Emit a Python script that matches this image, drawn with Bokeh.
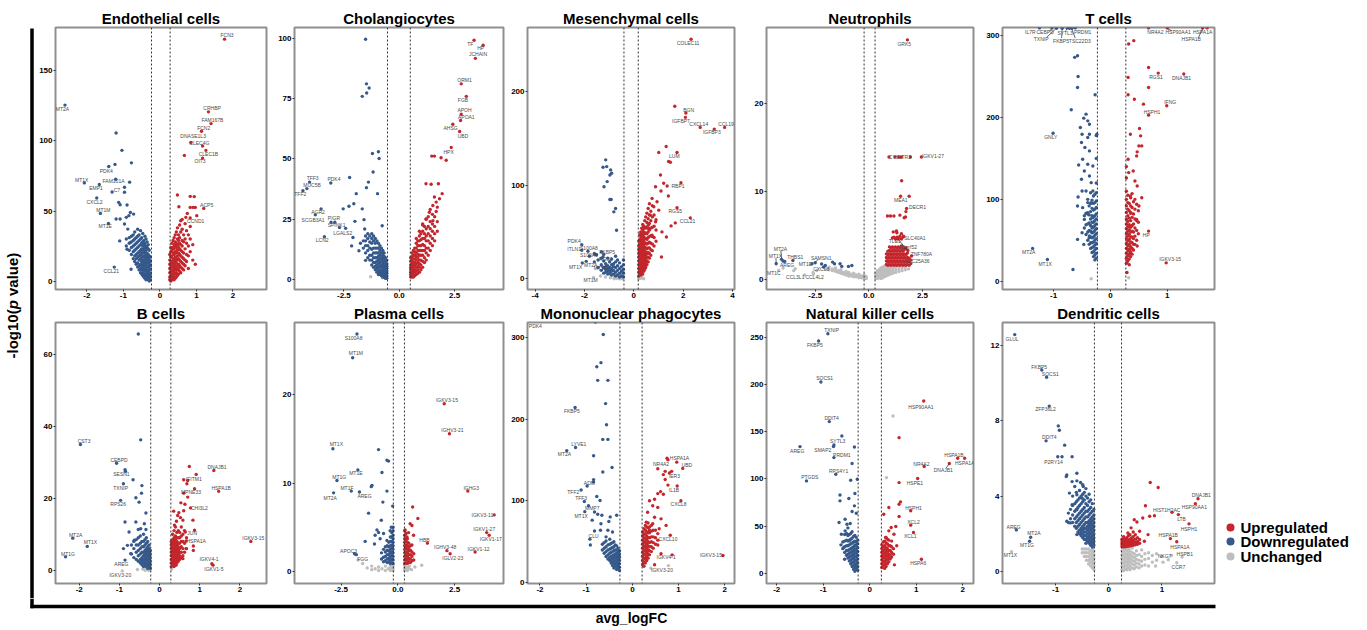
import math
from bokeh.plotting import figure
from bokeh.layouts import row, column
from bokeh.models import Range1d, FixedTicker, Span
from bokeh.core.properties import value
from bokeh.embed import file_html
from bokeh.resources import INLINE

FONT = "Liberation Sans"
RED = "#C3262C"
BLUE = "#35598B"
GRAY = "#BEBEBE"
LABEL_COLOR = "#4a4a4a"

# ======================= Endothelial cells =======================
ENDO_XR = (-2.86, 2.92); ENDO_YR = (-6, 181)
ENDO_XT = [-2, -1, 0, 1, 2]; ENDO_XTL = ["-2", "-1", "0", "1", "2"]
ENDO_YT = [0, 50, 100, 150]
ENDO_THR = (-0.23, 0.28)
ENDO_UP_DENSE = {
    0.27: [1, 3, 6, 9, 12, 15, 19], 0.30: [0, 2, 4, 7, 10, 13, 17, 21, 24],
    0.33: [1, 3, 5, 8, 11, 14, 18, 22, 27], 0.36: [2, 4, 7, 10, 13, 16, 20, 24, 29],
    0.39: [1, 3, 6, 9, 12, 15, 19, 23, 26, 31], 0.42: [2, 5, 8, 11, 14, 17, 21, 25, 28, 33],
    0.45: [3, 6, 9, 13, 16, 20, 24, 27, 35], 0.48: [4, 8, 11, 15, 18, 22, 26, 30, 38],
    0.51: [5, 9, 12, 16, 20, 24, 29, 33], 0.54: [7, 11, 15, 19, 23, 27, 31, 40],
    0.57: [6, 10, 14, 18, 22, 26, 35], 0.61: [9, 13, 17, 21, 25, 29, 37, 44],
    0.65: [8, 12, 16, 20, 28, 33], 0.69: [11, 15, 23, 30, 41], 0.73: [14, 19, 27, 36],
    0.78: [9, 18, 25, 33], 0.83: [21, 30, 39], 0.90: [15, 26], 0.97: [12],
}
ENDO_UP = [(0.48, 61.5), (0.83, 60.5), (0.94, 60.3), (0.52, 53.1), (0.83, 52.6), (0.91, 52.6),
           (0.97, 52.6), (0.75, 48.3), (0.71, 45.5), (0.57, 43.1), (0.67, 89.7), (1.01, 46.7)]
ENDO_DOWN_DENSE = {
    -0.26: [1, 3, 5, 8, 11, 14, 17], -0.29: [0, 2, 4, 6, 9, 12, 15, 18, 22],
    -0.32: [1, 3, 5, 7, 10, 13, 16, 19, 23, 26], -0.35: [2, 4, 6, 8, 11, 14, 17, 20, 24, 28],
    -0.38: [1, 3, 5, 8, 10, 13, 16, 19, 22, 25, 30], -0.41: [2, 4, 7, 9, 12, 15, 18, 21, 24, 27, 32],
    -0.44: [3, 5, 8, 11, 14, 17, 20, 23, 26, 29], -0.47: [4, 6, 9, 12, 15, 18, 22, 25, 28, 34],
    -0.50: [5, 8, 11, 14, 17, 20, 23, 27, 31], -0.53: [6, 9, 12, 16, 19, 22, 26, 30, 36],
    -0.57: [8, 11, 15, 18, 21, 25, 29, 33], -0.61: [10, 13, 17, 20, 24, 28, 32, 37],
    -0.65: [12, 16, 19, 23, 27, 31], -0.69: [14, 18, 22, 26, 30, 35], -0.73: [16, 21, 25, 29, 33],
    -0.78: [19, 24, 28, 32], -0.84: [22, 27, 31], -0.92: [25, 30],
}
ENDO_DOWN = [(-1.20, 105.7), (-1.04, 93.3), (-0.78, 84.4), (-1.23, 83.3), (-0.83, 70.6), (-0.97, 67.0),
             (-0.97, 63.4), (-1.13, 56.2), (-1.09, 54.5), (-0.90, 54.3), (-0.81, 49.0), (-0.85, 46.7),
             (-0.72, 47.8), (-0.92, 45.5), (-1.20, 44.3), (-1.09, 44.3), (-0.97, 40.7), (-0.88, 37.1),
             (-1.10, 28.7), (-0.81, 27.5), (-0.90, 22.7), (-0.79, 8.4), (-0.53, 8.4)]
ENDO_NC_DENSE = {}
ENDO_NC = []
ENDO_LABELS = [
    ("FCN3", "up", 1.77, 172.7, 1.84, 175.6), ("MT2A", "down", -2.60, 125.6, -2.67, 123.0),
    ("CRHBP", "up", 1.33, 120.8, 1.43, 123.4), ("FAM167B", "up", 1.40, 112.4, 1.44, 115.0),
    ("FCN2", "up", 1.14, 106.9, 1.20, 109.1), ("DNASE1L3", "up", 1.17, 96.4, 0.91, 103.6),
    ("CLEC4G", "up", 0.85, 99.0, 1.08, 98.8), ("CLEC1B", "up", 1.26, 93.3, 1.33, 90.7),
    ("OIT3", "up", 1.17, 87.8, 1.10, 85.6), ("ACP5", "up", 1.20, 51.9, 1.28, 54.3),
    ("CCND1", "up", 0.83, 45.0, 0.98, 43.1), ("PDK4", "down", -1.40, 81.8, -1.47, 78.9),
    ("MT1X", "down", -2.07, 70.1, -2.14, 72.5), ("FAM101A", "down", -1.21, 72.7, -1.27, 71.1),
    ("EMP1", "down", -1.66, 68.9, -1.75, 66.3), ("C7", "down", -1.31, 63.6, -1.18, 65.1),
    ("CXCL2", "down", -1.73, 59.3, -1.79, 56.7), ("MT1M", "down", -1.63, 48.3, -1.55, 51.0),
    ("MT1E", "down", -1.41, 41.1, -1.50, 39.0), ("CCL21", "down", -1.25, 10.0, -1.33, 7.2),
]
ENDO_SEGS = []

# ======================= Cholangiocytes =======================
CHOL_XR = (-4.73, 4.71); CHOL_YR = (-4.2, 104.6)
CHOL_XT = [-2.5, 0, 2.5]; CHOL_XTL = ["-2.5", "0.0", "2.5"]
CHOL_YT = [0, 25, 50, 75, 100]
CHOL_THR = (-0.53, 0.5)
CHOL_UP_DENSE = {
    0.52: [1, 2, 3, 4, 5, 6, 7.5, 9], 0.58: [1, 2, 3, 4, 5, 6.5, 8, 9.5, 11],
    0.64: [1, 2, 3.5, 4.5, 6, 7, 8.5, 10, 12], 0.70: [1.5, 3, 4, 5.5, 7, 8.5, 10, 11.5, 13],
    0.77: [2, 3.5, 5, 6.5, 8, 9.5, 11, 13, 15, 17], 0.84: [2.5, 4, 5.5, 7, 9, 10.5, 12, 14, 16],
    0.91: [3, 5, 6.5, 8, 10, 12, 14, 16, 18, 20], 0.98: [4, 6, 8, 10, 12, 14, 16.5, 19],
    1.06: [5, 7.5, 10, 12, 14.5, 17, 20, 23], 1.14: [7, 9, 12, 14, 17, 19, 22],
    1.22: [8, 11, 13, 16, 18, 21, 25], 1.31: [10, 13, 16, 19, 22, 26],
    1.40: [12, 15, 18, 21, 24, 29], 1.50: [14, 17, 20, 23, 27], 1.60: [16, 19, 22, 26],
    1.72: [20, 24, 30],
}
CHOL_UP = [(1.47, 51.2), (1.59, 51.2), (1.89, 50.5), (2.12, 49.5), (1.21, 39.7), (1.44, 39.5),
           (1.77, 39.7), (1.59, 34.2), (1.94, 35.6), (1.67, 32.1), (1.82, 33.5), (1.52, 30.7),
           (1.36, 27.9), (1.67, 28.2), (1.21, 25.1), (1.52, 24.4), (1.06, 22.6)]
CHOL_DOWN_DENSE = {
    -0.56: [0.5, 1.5, 2.5, 3.5, 4.5, 5.5, 6.5, 8], -0.62: [0.5, 1.5, 2.5, 3.5, 5, 6, 7.5, 9],
    -0.68: [1, 2, 3, 4, 5, 6.5, 8, 9.5, 11], -0.74: [1, 2, 3, 4.5, 5.5, 7, 8.5, 10, 12],
    -0.80: [1.5, 2.5, 3.5, 5, 6, 7.5, 9, 11, 13], -0.87: [2, 3, 4, 5.5, 7, 8.5, 10, 12, 14],
    -0.94: [2, 3.5, 5, 6.5, 8, 9.5, 11, 13, 15], -1.01: [3, 4.5, 6, 7.5, 9, 11, 13, 16],
    -1.08: [4, 5.5, 7, 9, 11, 13, 15, 17], -1.16: [5, 7, 9, 11, 13, 16, 18],
    -1.24: [6, 8, 10, 12.5, 15, 17, 19], -1.33: [8, 10, 13, 15.5, 18], -1.42: [9, 12, 14, 17, 19],
    -1.52: [11, 14, 16, 18], -1.62: [13, 16], -1.75: [15],
}
CHOL_DOWN = [(-1.52, 99.7), (-1.48, 81.2), (-1.36, 79.5), (-1.47, 77.4), (-1.67, 76.0), (-0.94, 53.0),
             (-1.21, 52.3), (-0.91, 50.2), (-1.18, 44.6), (-2.24, 42.3), (-1.39, 40.4), (-1.48, 38.1),
             (-0.98, 35.6), (-1.94, 35.6), (-2.05, 31.4), (-2.27, 30.4), (-2.53, 29.3), (-1.67, 29.3),
             (-1.59, 24.8), (-2.00, 24.1), (-0.77, 22.3), (-1.56, 20.9), (-2.09, 17.4), (-2.15, 13.9),
             (-1.82, 11.9), (-1.52, 7.9), (-2.91, 23.7)]
CHOL_NC_DENSE = {}
CHOL_NC = [(-1.29, 1.1), (-0.76, 0.7), (-0.62, 0.4)]
CHOL_LABELS = [
    ("TF", "up", 3.38, 99.3, 3.21, 97.9), ("HP", "up", 3.79, 97.2, 3.68, 96.0),
    ("JCHAIN", "up", 3.44, 91.8, 3.56, 93.4), ("ORM1", "up", 2.80, 81.2, 2.95, 82.6),
    ("FGB", "up", 3.03, 76.0, 2.88, 74.6), ("APOH", "up", 2.80, 68.6, 2.95, 70.2),
    ("APOA1", "up", 2.77, 66.0, 3.03, 67.4), ("AHSG", "up", 2.42, 64.4, 2.32, 63.0),
    ("UBD", "up", 2.73, 61.4, 2.88, 59.7), ("HPX", "up", 2.35, 54.8, 2.23, 53.0),
    ("TFF3", "down", -4.05, 40.4, -3.91, 42.1), ("MUC5B", "down", -4.17, 37.7, -3.94, 39.1),
    ("TFF2", "down", -4.35, 36.8, -4.47, 35.3), ("PDK4", "down", -3.09, 40.0, -2.95, 41.6),
    ("AGR2", "down", -3.53, 29.3, -3.67, 27.9), ("SCGB3A1", "down", -3.79, 26.8, -3.89, 24.8),
    ("PIGR", "down", -3.08, 23.7, -2.95, 25.4), ("SPINK1", "down", -2.70, 21.5, -2.83, 22.7),
    ("LGALS2", "down", -2.42, 21.2, -2.55, 19.4), ("LCN2", "down", -3.38, 17.7, -3.48, 16.5),
]
CHOL_SEGS = []

# ======================= Mesenchymal cells =======================
MES_XR = (-4.31, 4.08); MES_YR = (-11.4, 267.9)
MES_XT = [-4, -2, 0, 2, 4]; MES_XTL = ["-4", "-2", "0", "2", "4"]
MES_YT = [0, 100, 200]
MES_THR = (-0.40, 0.18)
MES_UP_DENSE = {
    0.20: [3, 7, 11, 15, 19, 23, 27, 31, 35, 40], 0.24: [5, 9, 13, 17, 21, 25, 29, 33, 37, 42, 47],
    0.28: [4, 8, 12, 16, 20, 24, 28, 32, 36, 40, 45, 50],
    0.32: [6, 10, 14, 18, 22, 26, 30, 34, 38, 43, 48, 54],
    0.36: [5, 9, 13, 17, 21, 25, 29, 33, 37, 41, 46, 52, 58],
    0.40: [8, 12, 16, 20, 24, 28, 32, 36, 40, 45, 50, 56],
    0.44: [10, 14, 18, 22, 26, 30, 34, 38, 43, 48, 54, 62],
    0.48: [12, 16, 20, 24, 28, 33, 38, 43, 49, 55, 66],
    0.53: [15, 19, 23, 27, 32, 37, 42, 48, 54, 60, 70],
    0.58: [18, 23, 28, 33, 38, 44, 50, 57, 64, 75], 0.63: [22, 27, 33, 39, 45, 52, 59, 68, 80],
    0.69: [25, 31, 38, 46, 54, 62, 72], 0.75: [30, 37, 45, 55, 66, 78], 0.82: [35, 44, 56, 68],
    0.90: [40, 52, 63],
}
MES_UP = [(1.31, 141.1), (1.66, 183.9), (1.01, 134.6), (1.41, 125.0), (1.48, 124.3), (1.08, 110.7),
          (1.21, 101.8), (1.35, 98.9), (0.88, 98.2), (1.10, 93.6), (1.40, 88.2), (0.74, 85.7),
          (1.32, 44.6), (1.12, 23.2), (1.51, 56.4), (1.68, 59.6), (0.94, 82.1), (0.81, 76.8),
          (1.01, 73.2), (0.67, 67.9), (0.88, 60.7), (0.61, 53.6), (1.14, 50.0), (0.74, 46.4)]
MES_DOWN_DENSE = {
    -0.42: [2, 6, 10, 15, 20], -0.50: [3, 8, 13], -0.58: [2, 6, 11, 17], -0.66: [4, 9, 14, 20],
    -0.74: [3, 7, 12, 18, 24], -0.82: [5, 9, 13, 16], -0.90: [4, 8, 11, 15, 21], -0.98: [6, 9, 12, 18],
    -1.06: [5, 8, 11, 14, 22], -1.14: [7, 10, 13, 16], -1.22: [6, 12, 19, 26], -1.32: [9, 15, 22],
    -1.45: [12, 20], -1.60: [18, 27], -1.80: [24],
}
MES_DOWN = [(-1.14, 126.8), (-1.25, 118.9), (-1.10, 119.6), (-0.94, 116.1), (-0.90, 112.5),
            (-0.97, 110.7), (-1.08, 103.6), (-1.21, 98.2), (-0.97, 84.6), (-0.92, 84.6), (-0.74, 75.0),
            (-0.81, 71.4), (-0.70, 51.8)]
MES_NC_DENSE = {
    -0.45: [0, 2, 4, 7, 10], -0.52: [0, 1.5, 4, 6], -0.60: [0, 2, 5], -0.70: [0.5, 3], -0.80: [0, 2],
    -0.95: [1, 4], -1.15: [2], -1.35: [3], 0.20: [0, 1.5], 0.26: [0.5, 2.5], 0.32: [1, 3], 0.40: [0],
}
MES_NC = []
MES_LABELS = [
    ("COLEC11", "up", 2.32, 255.4, 2.20, 251.8), ("BGN", "up", 2.11, 176.8, 2.22, 180.4),
    ("IGFBP7", "up", 2.09, 172.1, 1.91, 168.6), ("CXCL14", "up", 2.69, 161.4, 2.63, 165.0),
    ("CCL19", "up", 3.68, 161.4, 3.74, 165.0), ("IGFBP3", "up", 3.26, 159.6, 3.16, 156.1),
    ("LUM", "up", 1.75, 134.6, 1.64, 130.4), ("RBP1", "up", 1.91, 102.5, 1.79, 98.9),
    ("RGS5", "up", 1.75, 75.7, 1.68, 72.1), ("CCL21", "up", 2.29, 65.0, 2.18, 61.4),
    ("PDK4", "down", -2.11, 36.4, -2.42, 40.7), ("ITLN1", "down", -2.11, 30.4, -2.42, 31.4),
    ("S100A8", "down", -1.86, 29.3, -1.82, 33.2), ("S100A9", "down", -1.51, 25.7, -1.82, 25.0),
    ("FKBP5", "down", -1.31, 28.6, -1.08, 28.6), ("RGS2", "down", -1.25, 23.2, -1.14, 21.4),
    ("MT1X", "down", -2.09, 16.8, -2.36, 12.5), ("MT2A", "down", -1.93, 18.6, -1.75, 14.3),
    ("MT1E", "down", -1.25, 12.5, -1.35, 11.4), ("MT1M", "nc", -1.63, 1.4, -1.75, -1.8),
]
MES_SEGS = [(-1.62, 25.0, -1.52, 25.6)]

# ======================= Neutrophils =======================
NEU_XR = (-4.77, 4.88); NEU_YR = (-1.14, 28.6)
NEU_XT = [-2.5, 0, 2.5]; NEU_XTL = ["-2.5", "0.0", "2.5"]
NEU_YT = [0, 10, 20]
NEU_THR = (-0.22, 0.29)
NEU_UP_DENSE = {
    0.82: [1.7, 2.1, 2.5, 2.9], 0.89: [1.6, 2.0, 2.4, 2.8, 3.2], 0.96: [1.7, 2.1, 2.5, 2.9, 3.3, 3.7],
    1.03: [1.6, 2.0, 2.4, 2.8, 3.2, 3.6], 1.10: [1.7, 2.1, 2.5, 2.9, 3.3, 3.7, 4.7],
    1.17: [1.6, 2.0, 2.4, 2.8, 3.2, 3.6, 4.8], 1.24: [1.7, 2.1, 2.5, 2.9, 3.3, 3.7, 4.6],
    1.31: [1.6, 2.0, 2.4, 2.8, 3.2, 3.6, 4.8, 5.3], 1.38: [1.7, 2.1, 2.5, 2.9, 3.3, 3.7, 4.7],
    1.45: [1.6, 2.0, 2.4, 2.8, 3.2, 3.6, 4.9], 1.52: [1.7, 2.1, 2.5, 2.9, 3.3, 3.8, 4.6],
    1.59: [1.6, 2.0, 2.4, 2.8, 3.2, 3.6, 4.8], 1.66: [1.7, 2.1, 2.5, 2.9, 3.4],
    1.73: [1.6, 2.0, 2.4, 2.8, 3.6], 1.80: [1.7, 2.1, 2.5, 3.0], 1.88: [1.6, 2.0, 2.4], 1.96: [1.8, 2.2],
}
NEU_UP = [(0.94, 13.9), (1.22, 13.9), (1.40, 13.9), (1.94, 13.9), (1.53, 11.2), (1.88, 9.45),
          (1.73, 7.7), (0.87, 7.2), (1.01, 7.2), (1.17, 7.2), (1.45, 7.3), (1.65, 7.0), (1.71, 7.1),
          (1.29, 5.5), (1.14, 5.4), (1.52, 5.2)]
NEU_DOWN_DENSE = {}
NEU_DOWN = [(-1.69, 1.97), (-1.60, 1.78), (-1.34, 1.78), (-1.26, 1.48), (-0.95, 1.48), (-2.03, 1.59),
            (-2.11, 1.40), (-4.0, 2.09), (-0.79, 1.59), (-2.20, 1.75)]
NEU_NC_DENSE = {
    0.32: [0.1, 0.4, 0.7], 0.40: [0.1, 0.4, 0.7, 1.0], 0.48: [0.2, 0.5, 0.8, 1.1],
    0.56: [0.1, 0.4, 0.7, 1.0, 1.3], 0.64: [0.2, 0.5, 0.8, 1.1, 1.4], 0.72: [0.3, 0.6, 0.9, 1.2, 1.5],
    0.80: [0.4, 0.7, 1.0, 1.3], 0.90: [0.5, 0.8, 1.1, 1.4], 1.00: [0.6, 0.9, 1.2, 1.5],
    1.12: [0.7, 1.0, 1.3], 1.25: [0.8, 1.1, 1.4], 1.40: [0.9, 1.2, 1.5], 1.55: [1.0, 1.3],
    1.70: [1.1, 1.4], 1.85: [1.2],
    -0.12: [0.1, 0.3], -0.22: [0.1, 0.3, 0.5], -0.34: [0.2, 0.4], -0.46: [0.2, 0.4, 0.6],
    -0.58: [0.3, 0.5], -0.70: [0.3, 0.5, 0.7], -0.82: [0.4, 0.6], -0.94: [0.4, 0.6, 0.8],
    -1.06: [0.5, 0.7, 0.9], -1.18: [0.6, 0.8], -1.30: [0.7, 0.9, 1.1], -1.42: [0.8, 1.0],
    -1.55: [0.9, 1.1, 1.3], -1.70: [1.0, 1.2], -1.85: [1.1, 1.4], -2.0: [1.2], -2.6: [0.8],
    -3.0: [0.5], -3.5: [1.0], -4.0: [1.3],
}
NEU_NC = []
NEU_LABELS = [
    ("GRK5", "up", 1.80, 27.2, 1.65, 26.7), ("CYSLTR2", "up", 1.52, 13.9, 1.45, 13.9),
    ("IGKV1-27", "up", 2.45, 13.9, 2.99, 14.0), ("MEA1", "up", 1.48, 9.45, 1.49, 9.0),
    ("DECR1", "up", 1.76, 8.05, 2.27, 8.24), ("SLC40A1", "up", 1.62, 4.9, 2.15, 4.74),
    ("TLE1", "up", 1.35, 4.6, 1.21, 4.40), ("C1orf52", "up", 1.82, 3.3, 1.83, 3.68),
    ("ZNF780A", "up", 1.99, 2.66, 2.45, 2.85), ("SLC25A36", "up", 1.71, 2.05, 2.27, 2.05),
    ("MT2A", "down", -4.07, 2.28, -4.12, 3.49), ("MT1X", "down", -4.32, 1.78, -4.35, 2.66),
    ("AREG", "down", -3.92, 2.05, -3.81, 1.59), ("MT1C", "nc", -4.20, 1.02, -4.43, 0.76),
    ("THBS1", "down", -3.54, 2.16, -3.43, 2.54), ("MT1E", "down", -2.65, 1.78, -2.96, 1.71),
    ("SAMSN1", "down", -2.50, 1.90, -2.22, 2.47), ("CXCL8", "nc", -2.42, 1.02, -2.22, 1.21),
    ("CCL3L1", "nc", -3.43, 1.21, -3.43, 0.27), ("CCL4L2", "nc", -2.58, 0.65, -2.53, 0.27),
]
NEU_SEGS = [(-4.33, 2.45, -4.32, 1.85), (-4.10, 3.30, -4.07, 2.40), (-2.35, 2.30, -2.50, 1.95),
            (1.37, 4.55, 1.80, 3.30)]

# ======================= T cells =======================
T_XR = (-1.90, 1.83); T_YR = (-10.2, 310)
T_XT = [-1, 0, 1]; T_XTL = ["-1", "0", "1"]
T_YT = [0, 100, 200, 300]
T_THR = (-0.23, 0.27)
T_UP_DENSE = {
    0.28: [22, 28, 34, 40, 46, 52, 58, 64, 70, 76, 84, 92, 100, 110, 126, 140],
    0.305: [25, 31, 37, 43, 49, 55, 61, 67, 73, 80, 88, 96, 105],
    0.33: [20, 27, 33, 39, 45, 51, 57, 63, 69, 77, 86, 95],
    0.355: [30, 36, 42, 48, 54, 60, 66, 74, 83, 92, 102], 0.38: [33, 40, 47, 54, 61, 68, 78, 90, 107],
    0.405: [38, 45, 52, 60, 70, 82, 97], 0.43: [45, 55, 65, 76, 88], 0.46: [50, 62, 74, 94],
    0.49: [58, 72, 86],
}
T_UP = [(0.67, 261.2), (0.41, 293.9), (0.32, 289.8), (0.31, 227.8), (0.31, 249.0), (0.67, 236.7),
        (0.42, 222.4), (0.58, 216.3), (0.35, 179.6), (0.51, 186.5), (0.53, 177.6), (0.50, 165.3),
        (0.55, 165.3), (0.47, 158.0), (0.46, 153.1), (0.31, 149.0), (0.40, 134.7), (0.32, 132.7),
        (0.55, 102.0), (0.43, 122.4), (0.47, 116.3), (0.35, 104.1), (0.43, 100.0), (0.50, 91.8),
        (0.36, 83.7), (0.46, 75.5), (0.32, 67.3), (0.47, 42.9), (0.35, 34.7), (0.29, 22.4), (0.29, 10.5)]
T_DOWN_DENSE = {
    -0.25: [28, 34, 40, 46, 52, 58, 64, 70, 76, 82, 90, 98, 108, 120, 150, 178],
    -0.275: [26, 32, 38, 44, 50, 56, 62, 68, 74, 80, 88, 96, 106],
    -0.30: [30, 36, 42, 48, 54, 60, 66, 72, 79, 87, 95, 104],
    -0.325: [35, 41, 47, 53, 59, 65, 72, 80, 89, 99], -0.35: [40, 47, 54, 61, 68, 76, 85, 95, 108],
    -0.375: [45, 53, 62, 71, 81, 92], -0.40: [50, 60, 70, 82, 96], -0.43: [57, 69, 83], -0.46: [65, 80],
}
T_DOWN = [(-0.58, 275.5), (-0.63, 273.5), (-0.57, 250.2), (-0.58, 236.7), (-0.27, 227.8), (-0.69, 209.4),
          (-0.43, 204.1), (-0.47, 199.2), (-0.40, 195.9), (-0.53, 187.8), (-0.37, 191.8), (-0.50, 179.6),
          (-0.37, 179.6), (-0.40, 175.5), (-0.24, 179.6), (-0.51, 169.4), (-0.45, 163.3), (-0.37, 159.2),
          (-0.49, 149.0), (-0.56, 142.0), (-0.40, 142.9), (-0.31, 140.8), (-0.46, 134.7), (-0.37, 128.6),
          (-0.51, 124.5), (-0.34, 120.4), (-0.43, 110.2), (-0.31, 110.2), (-0.50, 110.2), (-0.57, 102.9),
          (-0.40, 100.0), (-0.34, 95.9), (-0.58, 91.8), (-0.49, 89.8), (-0.40, 83.7), (-0.31, 77.6),
          (-0.46, 75.5), (-0.34, 67.3), (-0.50, 59.2), (-0.58, 51.0), (-0.47, 44.9), (-0.37, 55.1),
          (-0.66, 14.3), (-0.72, 309.0)]
T_NC_DENSE = {}
T_NC = [(-0.34, 2.9), (0.32, 4.1)]
T_LABELS = [
    ("IL7R", "down", -1.25, 309.5, -1.41, 304.9), ("CEBPD", "down", -1.03, 309.5, -1.15, 304.9),
    ("TXNIP", "down", -0.95, 309.0, -1.22, 295.9), ("FKBP5", "down", -0.85, 309.0, -0.87, 293.5),
    ("SYTL3", "down", -0.76, 309.5, -0.80, 303.3), ("PRDM1", "down", -0.62, 309.5, -0.49, 304.9),
    ("TSC22D3", "down", -0.68, 309.0, -0.54, 293.5), ("NR4A2", "up", 0.67, 309.5, 0.79, 304.1),
    ("HSP90AA1", "up", 1.00, 309.5, 1.19, 304.1), ("HSPA1A", "up", 1.70, 309.5, 1.62, 304.1),
    ("HSPA1B", "up", 1.62, 309.5, 1.42, 295.9), ("RGS1", "up", 0.84, 254.3, 0.80, 249.0),
    ("DNAJB1", "up", 1.29, 253.1, 1.25, 247.8), ("IFNG", "up", 0.99, 214.3, 1.05, 219.2),
    ("HSPH1", "up", 0.67, 202.9, 0.73, 207.3), ("GNLY", "down", -1.01, 180.8, -1.05, 176.7),
    ("MT2A", "down", -1.37, 40.0, -1.44, 35.9), ("MT1X", "down", -1.11, 26.5, -1.15, 21.2),
    ("IGKV3-15", "up", 0.98, 22.4, 1.05, 27.3), ("HP", "up", 0.67, 61.2, 0.63, 56.7),
]
T_SEGS = [(-1.12, 298, -0.97, 308), (-0.86, 297, -0.85, 308), (-0.62, 297, -0.68, 308),
          (-1.08, 305, -1.03, 308.5), (-0.79, 306, -0.76, 308.5), (1.08, 306, 1.00, 308.5),
          (1.55, 298, 1.62, 308.5)]

# ======================= B cells =======================
B_XR = (-2.59, 2.66); B_YR = (-3.7, 68.8)
B_XT = [-2, -1, 0, 1, 2]; B_XTL = ["-2", "-1", "0", "1", "2"]
B_YT = [0, 20, 40, 60]
B_THR = (-0.22, 0.28)
B_UP_DENSE = {
    0.29: [1, 2, 3, 4, 5, 6, 7, 8], 0.325: [1.5, 2.5, 3.5, 4.5, 5.5, 6.5, 7.5, 8.5, 10],
    0.36: [1, 2, 3, 4, 5, 6, 7, 8, 9, 11], 0.395: [1.5, 2.5, 3.5, 4.5, 5.5, 6.5, 7.5, 8.5, 9.5, 12],
    0.43: [2, 3, 4, 5, 6, 7, 8, 9, 10.5], 0.465: [2.5, 3.5, 4.5, 5.5, 6.5, 7.5, 9, 11],
    0.50: [3, 4, 5, 6, 7.5, 9, 10.5], 0.54: [3.5, 5, 6.5, 8, 9.5, 12], 0.58: [4, 6, 8, 10],
    0.62: [5, 7.5, 11], 0.67: [6, 9],
}
B_UP = [(0.74, 28.8), (0.91, 26.6), (0.70, 24.9), (0.68, 24.0), (0.87, 22.6), (0.70, 20.3), (0.53, 18.7),
        (0.48, 16.0), (0.35, 16.4), (0.63, 18.3), (0.83, 13.9), (0.87, 11.1), (0.84, 6.7), (0.84, 5.5),
        (0.45, 15.2), (0.58, 13.9), (0.37, 12.5), (0.66, 6.0), (0.58, 3.2), (0.41, 1.4), (0.60, 16.5),
        (0.52, 14.6), (0.42, 13.6)]
B_DOWN_DENSE = {
    -0.23: [0.5, 1.5, 2.5, 3.5, 4.5, 5.5], -0.26: [1, 2, 3, 4, 5, 6, 7],
    -0.295: [0.5, 1.5, 2.5, 3.5, 4.5, 5.5, 6.5, 8], -0.33: [1, 2, 3, 4, 5, 6, 7.5, 9],
    -0.365: [1.5, 2.5, 3.5, 4.5, 5.5, 7, 8.5], -0.40: [1, 2, 3, 4, 5, 6.5, 8, 10],
    -0.44: [1.5, 2.5, 3.5, 5, 6.5, 8], -0.48: [2, 3, 4.5, 6, 7.5, 9.5], -0.53: [2.5, 4, 5.5, 7, 9],
    -0.58: [3, 5, 7, 8.5], -0.64: [3.5, 6, 8], -0.70: [4.5, 7],
}
B_DOWN = [(-0.53, 65.6), (-0.47, 36.2), (-0.66, 25.1), (-0.44, 23.5), (-0.45, 21.4), (-0.59, 20.1),
          (-0.51, 18.9), (-0.34, 15.9), (-0.86, 13.4), (-0.59, 13.4), (-0.38, 12.9), (-0.76, 10.6),
          (-0.53, 11.3), (-0.47, 11.5), (-0.34, 11.3), (-0.63, 8.3), (-0.80, 6.9), (-0.90, 6.0),
          (-0.72, 4.6), (-0.85, 27.5)]
B_NC_DENSE = {-0.24: [0, 0.4, 0.8], -0.28: [0, 0.5], -0.32: [0.2, 0.7], -0.36: [0, 0.5],
              -0.42: [0.3], -0.55: [0.2], 0.30: [0.3]}
B_NC = []
B_LABELS = [
    ("CST3", "down", -1.97, 34.9, -1.88, 35.9), ("CEBPD", "down", -1.07, 29.7, -1.01, 30.6),
    ("SESN1", "down", -0.86, 27.9, -0.95, 26.6), ("TXNIP", "down", -0.90, 24.0, -0.97, 22.9),
    ("RPS26", "down", -0.97, 19.4, -1.03, 18.5), ("MT2A", "down", -2.16, 8.9, -2.09, 9.7),
    ("MT1X", "down", -1.80, 6.6, -1.72, 7.7), ("MT1G", "down", -2.34, 3.7, -2.28, 4.6),
    ("AREG", "down", -0.86, 2.8, -0.95, 1.6), ("IGKV3-20", "nc", -0.93, -0.2, -0.98, -1.4),
    ("DNAJB1", "up", 1.35, 27.7, 1.43, 28.6), ("IFITM1", "up", 0.60, 25.1, 0.85, 25.4),
    ("HSPA1B", "up", 1.47, 21.9, 1.53, 22.8), ("MPNE33", "up", 0.60, 21.4, 0.78, 21.7),
    ("CHI3L2", "up", 0.77, 17.3, 0.99, 17.3), ("JUN", "up", 0.64, 10.6, 0.81, 10.2),
    ("HSPA1A", "up", 0.66, 8.1, 0.91, 8.1), ("IGKV3-15", "up", 2.27, 8.0, 2.33, 8.9),
    ("IGKV4-1", "up", 1.30, 1.8, 1.23, 3.0), ("IGKV1-5", "up", 1.33, 1.4, 1.35, 0.2),
]
B_SEGS = []

# ======================= Plasma cells =======================
PL_XR = (-4.55, 4.65); PL_YR = (-1.37, 28.2)
PL_XT = [-2.5, 0, 2.5]; PL_XTL = ["-2.5", "0.0", "2.5"]
PL_YT = [0, 10, 20]
PL_THR = (-0.20, 0.29)
PL_UP_DENSE = {
    0.30: [0.9, 1.3, 1.7, 2.1, 2.5, 2.9, 3.3, 3.7, 4.1, 4.6], 0.36: [1.0, 1.4, 1.8, 2.2, 2.6, 3.0, 3.4, 3.8, 4.3],
    0.42: [0.9, 1.3, 1.7, 2.1, 2.5, 2.9, 3.3, 3.7], 0.48: [1.1, 1.5, 1.9, 2.3, 2.7, 3.2],
    0.55: [1.0, 1.4, 1.9, 2.4, 2.9], 0.62: [1.2, 1.7, 2.2, 3.0], 0.70: [1.3, 2.0],
}
PL_UP = [(0.65, 7.3), (0.88, 6.0), (0.54, 5.4), (0.62, 5.2), (0.32, 4.7), (0.47, 4.4), (0.69, 4.1), (0.40, 3.9)]
PL_DOWN_DENSE = {
    -0.21: [0.9, 1.3, 1.7, 2.1, 2.5, 2.9, 3.3, 3.7, 4.1, 4.6, 5.0],
    -0.27: [1.0, 1.4, 1.8, 2.2, 2.6, 3.0, 3.4, 3.9, 4.4], -0.33: [0.9, 1.3, 1.7, 2.1, 2.5, 2.9, 3.4, 3.9],
    -0.40: [1.1, 1.5, 1.9, 2.3, 2.8, 3.3], -0.47: [1.0, 1.4, 1.9, 2.4, 2.9], -0.55: [1.2, 1.7, 2.2, 2.8],
    -0.63: [1.1, 1.6, 2.5], -0.72: [1.4, 2.1],
}
PL_DOWN = [(-0.85, 13.8), (-0.41, 12.5), (-0.48, 12.6), (-0.70, 11.2), (-1.14, 9.75), (-1.17, 9.6),
           (-0.48, 9.1), (-0.66, 7.85), (-0.23, 7.4), (-1.29, 6.6), (-0.73, 5.8), (-1.44, 3.4),
           (-1.00, 4.1), (-1.03, 3.1), (-0.78, 3.7), (-0.92, 4.7), (-0.85, 4.4), (-0.63, 4.3),
           (-0.48, 3.5), (-0.34, 4.6), (-0.29, 5.0), (-1.83, 1.9)]
PL_NC_DENSE = {
    -0.21: [0.1, 0.4, 0.7], -0.27: [0.2, 0.5], -0.33: [0.1, 0.4, 0.7], -0.42: [0.3], -0.55: [0.1, 0.6],
    -0.70: [0.3], -0.85: [0.1, 0.5], -1.00: [0.3], -1.15: [0.2, 0.6], -1.35: [0.4], -1.55: [0.9],
    0.30: [0.1, 0.4, 0.7], 0.36: [0.2, 0.5], 0.42: [0.1, 0.4], 0.50: [0.3, 0.6], 0.60: [0.2],
    0.75: [0.5], 1.05: [0.7],
}
PL_NC = []
PL_LABELS = [
    ("S100A8", "down", -1.80, 26.9, -1.95, 26.4), ("MT1M", "down", -1.99, 24.2, -1.85, 24.7),
    ("MT1X", "down", -2.86, 13.9, -2.71, 14.4), ("MT1E", "down", -1.76, 11.5, -1.85, 11.1),
    ("MT1G", "down", -2.68, 10.3, -2.58, 10.7), ("MT1F", "down", -2.05, 9.1, -2.24, 9.4),
    ("MT2A", "down", -2.83, 8.9, -2.98, 8.3), ("AREG", "down", -1.69, 9.0, -1.47, 8.5),
    ("APOC3", "down", -1.91, 2.0, -2.17, 2.35), ("FGG", "nc", -1.75, 1.3, -1.55, 1.45),
    ("IGKV3-15", "up", 2.04, 19.0, 2.16, 19.4), ("IGHV3-21", "up", 2.27, 15.6, 2.40, 16.0),
    ("IGHG3", "up", 3.08, 9.1, 3.23, 9.4), ("IGKV3-11", "up", 4.24, 6.4, 3.72, 6.4),
    ("IGKV1-27", "up", 3.91, 4.4, 3.80, 4.8), ("IGKV1-17", "up", 4.02, 4.1, 4.09, 3.7),
    ("IGKV1-12", "up", 3.40, 2.2, 3.55, 2.5), ("IGHV3-48", "up", 2.16, 2.35, 2.08, 2.75),
    ("IGLV2-23", "up", 2.30, 2.0, 2.42, 1.5), ("HBB", "up", 1.30, 3.2, 1.17, 3.6),
]
PL_SEGS = []

# ======================= Mononuclear phagocytes =======================
MO_XR = (-2.27, 2.21); MO_YR = (-1, 318)
MO_XT = [-2, -1, 0, 1, 2]; MO_XTL = ["-2", "-1", "0", "1", "2"]
MO_YT = [0, 100, 200, 300]
MO_THR = (-0.27, 0.21)
MO_UP_DENSE = {
    0.22: [22, 27, 32, 37, 42, 47, 52, 57, 62], 0.25: [20, 25, 30, 35, 40, 45, 50, 55, 60, 66],
    0.28: [24, 29, 34, 39, 44, 49, 54, 59, 64, 70], 0.31: [27, 32, 37, 42, 47, 52, 57, 62, 68],
    0.34: [30, 35, 40, 45, 50, 55, 61, 67, 73], 0.37: [34, 39, 44, 49, 55, 61, 68],
    0.41: [38, 44, 50, 56, 63, 70], 0.45: [42, 49, 56, 64], 0.50: [47, 55, 64], 0.55: [52, 60],
}
MO_UP = [(0.77, 150.1), (0.96, 147.3), (0.71, 136.1), (0.80, 134.1), (0.67, 132.1), (0.71, 126.1),
         (0.77, 119.3), (0.61, 111.3), (0.55, 108.9), (0.67, 108.1), (0.48, 102.0), (0.37, 100.1),
         (0.44, 94.0), (0.55, 92.0), (0.33, 86.0), (0.48, 80.0), (0.62, 78.0), (0.30, 74.0),
         (0.44, 72.0), (0.58, 66.0), (0.37, 64.0), (0.73, 70.0), (0.55, 46.0), (0.86, 34.0),
         (0.30, 30.0), (0.48, 22.0)]
MO_DOWN_DENSE = {
    -0.28: [15, 19, 23, 27, 31, 35, 39], -0.31: [17, 21, 25, 29, 33, 37, 42],
    -0.34: [16, 20, 24, 28, 32, 36, 40, 45], -0.37: [19, 23, 27, 31, 35, 40, 46],
    -0.40: [18, 22, 26, 30, 34, 39, 44, 50], -0.43: [21, 25, 29, 33, 38, 43, 49],
    -0.46: [24, 28, 32, 37, 42, 48], -0.49: [27, 31, 36, 41, 47, 53], -0.53: [29, 34, 40, 46],
    -0.57: [32, 38, 44, 51], -0.61: [36, 42, 49], -0.65: [40, 47],
}
MO_DOWN = [(-0.63, 303.3), (-0.77, 263.9), (-0.68, 268.9), (-0.75, 247.3), (-0.53, 247.3), (-0.58, 218.9),
           (-0.56, 193.1), (-0.64, 175.1), (-0.53, 175.1), (-0.84, 155.1), (-0.44, 140.8), (-0.64, 135.3),
           (-0.84, 126.0), (-0.84, 123.2), (-0.77, 105.3), (-0.70, 100.4), (-0.82, 86.4), (-0.87, 76.4),
           (-0.75, 83.6), (-0.66, 82.4), (-0.68, 72.0), (-0.48, 80.4), (-0.34, 82.4), (-0.82, 63.2),
           (-0.69, 64.0), (-0.53, 64.0), (-0.57, 56.0), (-0.91, 46.0), (-0.51, 74.8), (-0.43, 62.0)]
MO_NC_DENSE = {}
MO_NC = [(0.78, 20.9)]
MO_LABELS = [
    ("PDK4", "down", -0.80, 318.5, -2.10, 313.3), ("FKBP5", "down", -1.24, 214.1, -1.31, 209.3),
    ("LYVE1", "down", -1.23, 165.3, -1.16, 169.4), ("MT2A", "down", -1.42, 161.3, -1.47, 157.1),
    ("ADM", "down", -0.98, 118.1, -0.93, 122.0), ("TFF2", "down", -1.11, 113.3, -1.28, 111.3),
    ("TFF3", "down", -1.04, 99.2, -1.11, 103.2), ("MMP7", "down", -0.95, 94.0, -0.87, 90.8),
    ("MT1X", "down", -1.03, 86.8, -1.11, 81.2), ("CLU", "down", -0.92, 53.2, -0.84, 56.8),
    ("HSPA1A", "up", 0.75, 152.1, 1.02, 152.9), ("NR4A2", "up", 0.55, 139.3, 0.62, 144.5),
    ("UBD", "up", 1.09, 139.7, 1.18, 143.7), ("IER3", "up", 0.85, 136.1, 0.91, 130.9),
    ("IL1B", "up", 0.97, 118.1, 0.90, 113.0), ("CXCL8", "up", 1.05, 100.1, 1.00, 96.1),
    ("CXCL10", "up", 0.82, 58.0, 0.77, 53.2), ("IGKV4-1", "up", 0.62, 35.3, 0.73, 31.8),
    ("IGKV3-15", "up", 1.96, 33.3, 1.70, 33.3), ("IGKV3-20", "nc", 0.40, 17.8, 0.64, 15.8),
]
MO_SEGS = []

# ======================= Natural killer cells =======================
NK_XR = (-2.22, 2.23); NK_YR = (-11, 266)
NK_XT = [-2, -1, 0, 1, 2]; NK_XTL = ["-2", "-1", "0", "1", "2"]
NK_YT = [0, 50, 100, 150, 200, 250]
NK_THR = (-0.25, 0.25)
NK_UP_DENSE = {
    0.26: [6, 10, 14, 18, 22, 26, 30], 0.29: [8, 12, 16, 20, 24, 28, 33],
    0.32: [5, 9, 13, 17, 21, 25, 29, 34], 0.35: [7, 11, 15, 19, 23, 27, 32, 38],
    0.38: [10, 14, 18, 22, 26, 31, 36], 0.41: [12, 16, 20, 24, 29, 35], 0.44: [15, 19, 24, 29],
    0.47: [17, 22, 28, 34], 0.51: [20, 26],
}
NK_UP = [(0.63, 73.1), (0.66, 75.6), (0.41, 69.6), (0.63, 60.1), (0.56, 49.5), (0.46, 48.4), (0.52, 41.3),
         (0.58, 29.0), (0.53, 8.8), (0.30, 62.5), (0.63, 96.1), (0.63, 143.8), (0.41, 44.9), (0.34, 37.8)]
NK_DOWN_DENSE = {
    -0.26: [3, 7, 11, 15, 19, 23, 27, 31, 35], -0.29: [5, 9, 13, 17, 21, 25, 29, 33, 38],
    -0.32: [2, 6, 10, 14, 18, 22, 26, 30, 34, 40], -0.35: [4, 8, 12, 16, 20, 24, 28, 33, 39],
    -0.38: [7, 11, 15, 19, 23, 27, 32, 37, 44], -0.41: [10, 14, 18, 22, 26, 31, 36, 42],
    -0.44: [13, 17, 21, 25, 30, 35, 41], -0.47: [16, 20, 24, 29, 34, 40, 48], -0.50: [19, 24, 29, 35, 42],
    -0.54: [22, 28, 34, 41], -0.58: [26, 33], -0.62: [30],
}
NK_DOWN = [(-0.60, 145.6), (-0.33, 133.9), (-0.38, 116.3), (-0.41, 98.6), (-0.27, 99.6), (-0.64, 83.0),
           (-0.64, 76.7), (-0.45, 79.2), (-0.32, 84.5), (-0.33, 71.4), (-0.38, 65.4), (-0.29, 63.6),
           (-0.66, 53.7), (-0.53, 57.2), (-0.49, 51.9), (-0.42, 52.7), (-0.61, 41.3), (-0.53, 44.9),
           (-0.56, 27.2), (-0.54, 14.8), (-0.44, 34.3)]
NK_NC_DENSE = {}
NK_NC = [(0.50, 166.8), (0.36, 101.4)]
NK_LABELS = [
    ("TXNIP", "down", -0.90, 254.1, -0.82, 257.6), ("FKBP5", "down", -1.10, 246.3, -1.18, 242.0),
    ("SOCS1", "down", -1.05, 202.8, -0.97, 206.7), ("DDIT4", "down", -0.87, 160.8, -0.82, 164.3),
    ("SYTL3", "down", -0.77, 136.0, -0.69, 140.3), ("SMAP2", "down", -0.78, 134.3, -1.01, 130.7),
    ("AREG", "down", -1.50, 134.3, -1.56, 129.3), ("PRDM1", "down", -0.77, 122.6, -0.60, 125.4),
    ("RPS4Y1", "down", -0.73, 104.9, -0.67, 108.5), ("PTGDS", "down", -1.36, 97.9, -1.29, 102.1),
    ("HSP90AA1", "up", 1.16, 182.7, 1.10, 176.7), ("HSPA1B", "up", 1.89, 121.9, 1.81, 125.1),
    ("HSPA1A", "up", 2.04, 121.9, 2.04, 116.6), ("NR4A2", "up", 1.17, 113.1, 1.11, 116.3),
    ("DNAJB1", "up", 1.71, 116.3, 1.58, 109.2), ("HSPE1", "up", 1.03, 100.4, 0.97, 96.1),
    ("HSPH1", "up", 0.88, 66.1, 0.94, 69.6), ("XCL2", "up", 0.88, 50.9, 0.94, 54.4),
    ("XCL1", "up", 0.94, 43.1, 0.87, 38.9), ("HSPA6", "up", 1.11, 14.8, 1.04, 10.6),
]
NK_SEGS = [(1.64, 111.5, 1.70, 115.5)]

# ======================= Dendritic cells =======================
DC_XR = (-2.0, 1.99); DC_YR = (-0.63, 13.2)
DC_XT = [-1, 0, 1]; DC_XTL = ["-1", "0", "1"]
DC_YT = [0, 4, 8, 12]
DC_THR = (-0.27, 0.24)
DC_UP_DENSE = {
    0.25: [1.32, 1.42, 1.52, 1.62, 1.72], 0.28: [1.32, 1.42, 1.52, 1.62, 1.72, 1.85],
    0.31: [1.32, 1.42, 1.52, 1.62, 1.75], 0.34: [1.34, 1.44, 1.54, 1.64, 1.8],
    0.37: [1.35, 1.45, 1.55, 1.68, 1.9], 0.40: [1.36, 1.46, 1.58, 1.72, 1.95],
    0.43: [1.38, 1.5, 1.62, 1.78], 0.46: [1.4, 1.52, 1.66, 1.85, 2.1], 0.50: [1.42, 1.56, 1.72, 1.95],
    0.54: [1.45, 1.6, 1.8], 0.58: [1.5, 1.7],
}
DC_UP = [(0.78, 4.72), (0.93, 4.46), (0.69, 3.49), (0.77, 2.93), (0.86, 2.96), (0.64, 2.84), (0.48, 2.75),
         (0.53, 2.63), (0.42, 2.32), (0.58, 2.14), (0.74, 1.96), (0.67, 1.61), (0.36, 2.05)]
DC_DOWN_DENSE = {
    -0.28: [1.4, 1.6, 1.8, 2.0, 2.2, 2.4, 2.6, 2.8, 3.0, 3.3],
    -0.31: [1.3, 1.5, 1.7, 1.9, 2.1, 2.3, 2.5, 2.7, 2.9, 3.2, 3.6],
    -0.34: [1.4, 1.6, 1.8, 2.0, 2.2, 2.4, 2.6, 2.8, 3.1, 3.4, 3.8],
    -0.37: [1.5, 1.7, 1.9, 2.1, 2.3, 2.5, 2.7, 3.0, 3.3, 3.7, 4.1],
    -0.40: [1.6, 1.8, 2.0, 2.2, 2.4, 2.6, 2.9, 3.2, 3.5, 3.9],
    -0.43: [1.5, 1.7, 1.9, 2.1, 2.3, 2.6, 2.9, 3.2, 3.6, 4.0, 4.4],
    -0.46: [1.7, 1.9, 2.1, 2.3, 2.5, 2.8, 3.1, 3.4, 3.8, 4.2],
    -0.49: [1.8, 2.0, 2.2, 2.4, 2.7, 3.0, 3.3, 3.7, 4.1, 4.6],
    -0.52: [1.9, 2.1, 2.3, 2.6, 2.9, 3.2, 3.6, 4.0], -0.55: [2.0, 2.2, 2.5, 2.8, 3.1, 3.5, 3.9, 4.3],
    -0.58: [2.1, 2.4, 2.7, 3.0, 3.4, 3.8], -0.61: [2.3, 2.6, 2.9, 3.3, 3.7, 4.2],
    -0.64: [2.4, 2.8, 3.2, 3.6], -0.68: [2.6, 3.0, 3.5, 4.0], -0.72: [2.8, 3.3], -0.76: [2.6, 3.1],
}
DC_DOWN = [(-0.95, 7.72), (-0.93, 7.49), (-0.83, 6.70), (-0.88, 6.09), (-0.69, 6.09), (-0.79, 5.12),
           (-0.60, 5.21), (-0.80, 5.04), (-0.69, 4.77), (-0.60, 4.81), (-0.53, 4.72), (-0.64, 4.51),
           (-0.48, 4.51), (-0.74, 4.16), (-0.60, 4.07), (-0.50, 3.89), (-0.69, 3.54), (-0.60, 3.28),
           (-0.79, 2.67), (-0.72, 2.58), (-0.60, 1.96)]
DC_NC_DENSE = {
    0.25: [0.1, 0.3, 0.5, 0.7, 0.9, 1.1], 0.28: [0.05, 0.25, 0.45, 0.65, 0.85, 1.05, 1.25],
    0.31: [0.15, 0.35, 0.55, 0.75, 0.95, 1.15], 0.34: [0.1, 0.3, 0.5, 0.7, 0.9, 1.1, 1.28],
    0.37: [0.2, 0.4, 0.6, 0.8, 1.0, 1.2], 0.40: [0.1, 0.3, 0.5, 0.7, 0.9, 1.1],
    0.44: [0.2, 0.4, 0.6, 0.8, 1.0, 1.25], 0.48: [0.15, 0.35, 0.55, 0.75, 0.95],
    0.52: [0.25, 0.45, 0.65, 0.85, 1.1], 0.57: [0.2, 0.4, 0.6, 0.9], 0.62: [0.3, 0.55, 0.8, 1.15],
    0.68: [0.35, 0.65, 0.95], 0.75: [0.3, 0.7, 1.0], 0.82: [0.5, 0.85], 0.90: [0.6, 0.95], 1.00: [0.8],
    -0.28: [0.1, 0.3, 0.5, 0.7, 0.9, 1.1], -0.31: [0.2, 0.4, 0.6, 0.8, 1.0, 1.2],
    -0.34: [0.3, 0.5, 0.7, 0.9, 1.1], -0.38: [0.4, 0.6, 0.8, 1.0, 1.2], -0.42: [0.6, 0.8, 1.0, 1.2],
    -0.46: [0.8, 1.0, 1.2], -0.50: [1.0, 1.2],
}
DC_NC = [(1.18, 0.85), (1.02, 0.5), (0.88, 0.3)]
DC_LABELS = [
    ("GLUL", "down", -1.77, 12.56, -1.82, 12.35), ("FKBP5", "down", -1.26, 10.68, -1.31, 10.86),
    ("SOCS1", "down", -1.17, 10.30, -1.10, 10.47), ("ZFP36L2", "down", -1.12, 8.77, -1.19, 8.60),
    ("DDIT4", "down", -1.18, 6.93, -1.12, 7.14), ("P2RY14", "down", -0.96, 6.09, -1.04, 5.82),
    ("AREG", "down", -1.74, 2.21, -1.79, 2.39), ("MT2A", "down", -1.47, 1.82, -1.41, 2.02),
    ("MT1G", "down", -1.49, 1.61, -1.54, 1.40), ("MT1X", "nc", -1.83, 1.05, -1.85, 0.88),
    ("DNAJB1", "up", 1.68, 3.86, 1.74, 4.07), ("HSP90AA1", "up", 1.63, 3.60, 1.61, 3.42),
    ("HIST1H2AC", "up", 1.19, 3.14, 1.09, 3.28), ("LTB", "up", 1.31, 3.02, 1.37, 2.77),
    ("HSPH1", "up", 1.51, 2.53, 1.51, 2.28), ("HSPA1B", "up", 1.16, 1.75, 1.12, 1.96),
    ("HSPA1A", "up", 1.28, 1.58, 1.34, 1.33), ("HSPB1", "nc", 1.38, 0.77, 1.43, 0.91),
    ("NKG7", "nc", 1.12, 0.63, 1.05, 0.81), ("CCR7", "nc", 1.28, 0.47, 1.31, 0.26),
]
DC_SEGS = []

# ======================= layout geometry =======================
LEFT_W = 34
COL_W = [238, 234, 236, 237, 241]
COL_BL = [21, 22, 21, 24, 23]
COL_BR = [6, 3, 8, 6, 6]
ROW_H = [302, 296]
ROW_BT = [27, 19]
ROW_BB = [13, 15]
LEG_W = 139
BOTTOM_H = 30

PANELS = [
    ["Endothelial cells", ENDO_XR, ENDO_YR, ENDO_XT, ENDO_XTL, ENDO_YT, ENDO_THR, ENDO_UP_DENSE, ENDO_UP,
     ENDO_DOWN_DENSE, ENDO_DOWN, ENDO_NC_DENSE, ENDO_NC, ENDO_LABELS, ENDO_SEGS],
    ["Cholangiocytes", CHOL_XR, CHOL_YR, CHOL_XT, CHOL_XTL, CHOL_YT, CHOL_THR, CHOL_UP_DENSE, CHOL_UP,
     CHOL_DOWN_DENSE, CHOL_DOWN, CHOL_NC_DENSE, CHOL_NC, CHOL_LABELS, CHOL_SEGS],
    ["Mesenchymal cells", MES_XR, MES_YR, MES_XT, MES_XTL, MES_YT, MES_THR, MES_UP_DENSE, MES_UP,
     MES_DOWN_DENSE, MES_DOWN, MES_NC_DENSE, MES_NC, MES_LABELS, MES_SEGS],
    ["Neutrophils", NEU_XR, NEU_YR, NEU_XT, NEU_XTL, NEU_YT, NEU_THR, NEU_UP_DENSE, NEU_UP,
     NEU_DOWN_DENSE, NEU_DOWN, NEU_NC_DENSE, NEU_NC, NEU_LABELS, NEU_SEGS],
    ["T cells", T_XR, T_YR, T_XT, T_XTL, T_YT, T_THR, T_UP_DENSE, T_UP,
     T_DOWN_DENSE, T_DOWN, T_NC_DENSE, T_NC, T_LABELS, T_SEGS],
    ["B cells", B_XR, B_YR, B_XT, B_XTL, B_YT, B_THR, B_UP_DENSE, B_UP,
     B_DOWN_DENSE, B_DOWN, B_NC_DENSE, B_NC, B_LABELS, B_SEGS],
    ["Plasma cells", PL_XR, PL_YR, PL_XT, PL_XTL, PL_YT, PL_THR, PL_UP_DENSE, PL_UP,
     PL_DOWN_DENSE, PL_DOWN, PL_NC_DENSE, PL_NC, PL_LABELS, PL_SEGS],
    ["Mononuclear phagocytes", MO_XR, MO_YR, MO_XT, MO_XTL, MO_YT, MO_THR, MO_UP_DENSE, MO_UP,
     MO_DOWN_DENSE, MO_DOWN, MO_NC_DENSE, MO_NC, MO_LABELS, MO_SEGS],
    ["Natural killer cells", NK_XR, NK_YR, NK_XT, NK_XTL, NK_YT, NK_THR, NK_UP_DENSE, NK_UP,
     NK_DOWN_DENSE, NK_DOWN, NK_NC_DENSE, NK_NC, NK_LABELS, NK_SEGS],
    ["Dendritic cells", DC_XR, DC_YR, DC_XT, DC_XTL, DC_YT, DC_THR, DC_UP_DENSE, DC_UP,
     DC_DOWN_DENSE, DC_DOWN, DC_NC_DENSE, DC_NC, DC_LABELS, DC_SEGS],
]


def collect(dense, extra, labels, cls):
    xs, ys = [], []
    for x, yl in dense.items():
        for y in yl:
            xs.append(x)
            ys.append(y)
    for x, y in extra:
        xs.append(x)
        ys.append(y)
    for lab in labels:
        if lab[1] == cls:
            xs.append(lab[2])
            ys.append(lab[3])
    return xs, ys


def make_panel(spec, ci, ri):
    (title, xr, yr, xt, xtl, yt, thr, upd, up, dnd, dn, ncd, nc, labels, segs) = spec
    p = figure(width=COL_W[ci], height=ROW_H[ri], x_range=Range1d(*xr), y_range=Range1d(*yr),
               output_backend="svg", toolbar_location=None,
               min_border_left=COL_BL[ci], min_border_right=COL_BR[ci],
               min_border_top=ROW_BT[ri], min_border_bottom=ROW_BB[ri])
    p.title.text = title
    p.title.text_font = FONT
    p.title.text_font_size = "15px"
    p.title.text_font_style = "bold"
    p.title.text_color = "black"
    p.title.align = "center"
    p.title.standoff = 1
    p.xgrid.visible = False
    p.ygrid.visible = False
    p.outline_line_color = "#8f8f8f"
    p.outline_line_width = 2
    p.background_fill_color = "white"
    p.border_fill_color = "white"
    p.xaxis.ticker = FixedTicker(ticks=xt)
    p.xaxis.major_label_overrides = {t: s for t, s in zip(xt, xtl)}
    p.yaxis.ticker = FixedTicker(ticks=yt)
    for ax in (p.xaxis, p.yaxis):
        ax.axis_line_color = None
        ax.major_tick_line_color = "#333333"
        ax.major_tick_out = 2
        ax.major_tick_in = 0
        ax.minor_tick_line_color = None
        ax.major_label_standoff = 1
        ax.major_label_text_font = FONT
        ax.major_label_text_font_size = "8px"
        ax.major_label_text_font_style = "bold"
        ax.major_label_text_color = "black"

    gx, gy = collect(ncd, nc, labels, "nc")
    p.scatter(gx, gy, size=3.4, fill_color=GRAY, line_color=None)
    bx, by = collect(dnd, dn, labels, "down")
    p.scatter(bx, by, size=3.4, fill_color=BLUE, line_color=None)
    rx, ry = collect(upd, up, labels, "up")
    p.scatter(rx, ry, size=3.4, fill_color=RED, line_color=None)

    for t in thr:
        p.add_layout(Span(location=t, dimension="height", line_color="#333333",
                          line_width=1, line_dash="2 2"))
    if segs:
        p.segment(x0=[s[0] for s in segs], y0=[s[1] for s in segs],
                  x1=[s[2] for s in segs], y1=[s[3] for s in segs],
                  line_color="#222222", line_width=0.7)
    p.text(x=[l[4] for l in labels], y=[l[5] for l in labels], text=[l[0] for l in labels],
           text_font=value(FONT), text_font_size="5px", text_color=LABEL_COLOR,
           text_align="center", text_baseline="middle")
    return p


figs = [make_panel(spec, i % 5, i // 5) for i, spec in enumerate(PANELS)]
row1 = row(*figs[:5])
row2 = row(*figs[5:])


def blank(w, h):
    f = figure(width=w, height=h, x_range=Range1d(0, w), y_range=Range1d(h, 0),
               output_backend="svg", toolbar_location=None, min_border=0)
    f.axis.visible = False
    f.xgrid.visible = False
    f.ygrid.visible = False
    f.outline_line_color = None
    return f


FULL_H = ROW_H[0] + ROW_H[1]

# left strip: y axis title and thick frame line
Y_TITLE = ["-log10(", "p", "value)"]
Y_FS = 15
left = blank(LEFT_W, FULL_H)
left.segment(x0=[31.5], y0=[28], x1=[31.5], y1=[FULL_H], line_color="black", line_width=3.5)
y_start = 358
w1 = 3.278 * Y_FS
w2 = 0.611 * Y_FS + 0.278 * Y_FS
for txt, yy, style in [(Y_TITLE[0], y_start, "bold"), (Y_TITLE[1], y_start - w1, "bold italic"),
                       (Y_TITLE[2], y_start - w1 - w2, "bold")]:
    left.text(x=[12], y=[yy], text=[txt], angle=math.pi / 2, text_align="left", text_baseline="middle",
              text_font=value(FONT), text_font_size=f"{Y_FS}px", text_font_style=style, text_color="black")

# legend strip
LEGEND_NAMES = ["Upregulated", "Downregulated", "Unchanged"]
LEGEND_COLORS = [RED, BLUE, GRAY]
leg = blank(LEG_W, FULL_H)
leg.scatter(x=[10, 10, 10], y=[527, 541, 556], size=8, fill_color=LEGEND_COLORS, line_color=None)
leg.text(x=[20, 20, 20], y=[527, 541, 556], text=LEGEND_NAMES, text_align="left", text_baseline="middle",
         text_font=value(FONT), text_font_size="15px", text_font_style="bold", text_color="black")

# bottom strip: x axis title and thick frame line
X_TITLE = "avg_logFC"
TOTAL_W = LEFT_W + sum(COL_W) + LEG_W
bottom = blank(TOTAL_W, BOTTOM_H)
bottom.segment(x0=[30], y0=[8], x1=[1215], y1=[8], line_color="black", line_width=3.5)
bottom.segment(x0=[31.5], y0=[0], x1=[31.5], y1=[9.7], line_color="black", line_width=3.5)
bottom.text(x=[631], y=[19], text=[X_TITLE], text_align="center", text_baseline="middle",
            text_font=value(FONT), text_font_size="14px", text_font_style="bold", text_color="black")

layout = column(row(left, column(row1, row2), leg), bottom)

open("out.html", "w").write(file_html(layout, INLINE))
